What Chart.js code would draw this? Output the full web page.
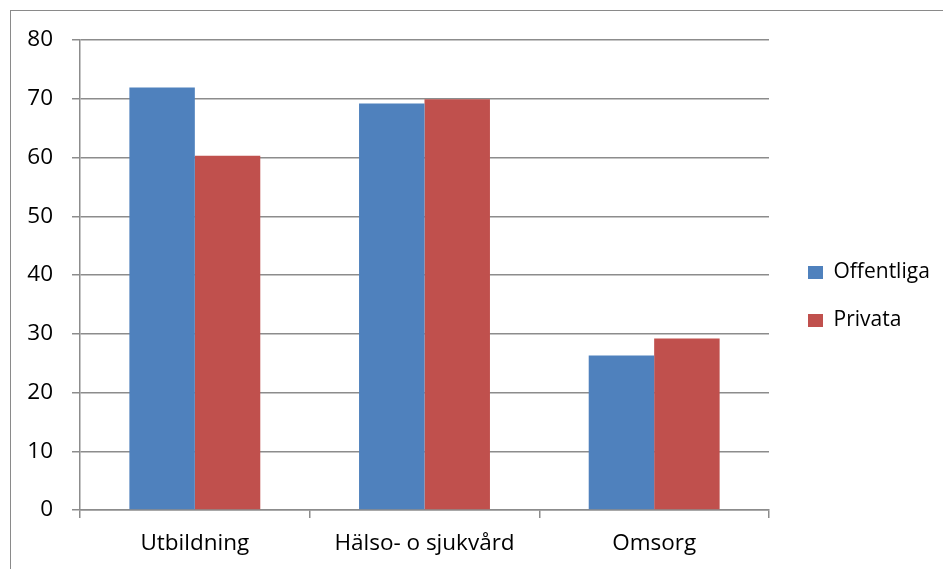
<!DOCTYPE html>
<html>
<head>
<meta charset="utf-8">
<script src="https://cdn.jsdelivr.net/npm/chart.js@4"></script>
<style>
  html, body { margin: 0; padding: 0; background: #fff; }
  #wrap { position: relative; width: 943px; height: 569px; overflow: hidden; }
  #frame { position: absolute; left: 10px; top: 10px; width: 1000px; height: 1000px;
           border-left: 1.5px solid #8a8a8a; border-top: 1.5px solid #8a8a8a; }
  canvas { position: absolute; left: 0; top: 0; }
</style>
</head>
<body>
<div id="wrap">
  <div id="frame"></div>
  <canvas id="c" width="943" height="569"></canvas>
</div>
<script>
const categories = ["Utbildning", "Hälso- o sjukvård", "Omsorg"];
const offentliga = [71.9, 69.2, 26.3];
const privata = [60.3, 69.9, 29.2];
const seriesNames = ["Offentliga", "Privata"];
const yTicks = [0, 10, 20, 30, 40, 50, 60, 70, 80];

const FONT = "'Open Sans', 'Liberation Sans', sans-serif";
const GRID = "#8c8c8c";

const layoutPlugin = {
  id: "layoutFix",
  beforeLayout(chart) {
    const lg = chart.legend;
    if (lg && !lg._patched) {
      const orig = lg.fit;
      lg.fit = function () { orig.call(this); this.width = 174; };
      lg._patched = true;
    }
  },
  afterLayout(chart) {
    const lg = chart.legend;
    if (lg) {
      lg.left = 781; lg.right = 943;
      lg.top = 235; lg.bottom = 569;
    }
  }
};

new Chart(document.getElementById("c"), {
  type: "bar",
  data: {
    labels: categories,
    datasets: [
      { label: seriesNames[0], data: offentliga, backgroundColor: "#4F81BD" },
      { label: seriesNames[1], data: privata, backgroundColor: "#C0504D" }
    ]
  },
  options: {
    responsive: false,
    animation: false,
    layout: { padding: { left: 0, top: 40, right: 0, bottom: 0 } },
    datasets: { bar: { barPercentage: 1.0, categoryPercentage: 0.57 } },
    scales: {
      x: {
        grid: { display: true, drawOnChartArea: false, color: GRID, tickLength: 8, offset: true, lineWidth: 1.5 },
        border: { display: true, color: GRID, width: 1.5 },
        ticks: { color: "#000", font: { family: FONT, size: 22.5 }, padding: 12 },
        afterFit(s) { s.height = 59; }
      },
      y: {
        min: 0, max: 80,
        afterBuildTicks(s) { s.ticks = yTicks.map(v => ({ value: v })); },
        grid: { color: GRID, tickLength: 8, lineWidth: 1.5 },
        border: { display: true, color: GRID, width: 1.5 },
        ticks: { color: "#000", font: { family: FONT, size: 22.5 }, padding: 19 },
        afterFit(s) { s.width = 80; }
      }
    },
    plugins: {
      legend: {
        position: "right",
        align: "start",
        labels: {
          color: "#000",
          font: { family: FONT, size: 21 },
          boxWidth: 15, boxHeight: 13,
          padding: 27
        }
      },
      tooltip: { enabled: false }
    }
  },
  plugins: [layoutPlugin]
});
</script>
</body>
</html>
